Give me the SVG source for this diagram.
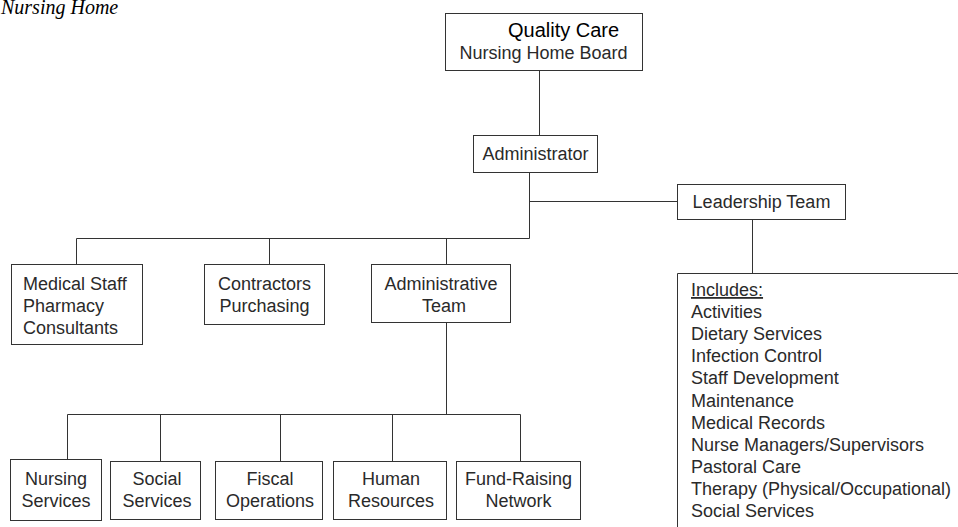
<svg xmlns="http://www.w3.org/2000/svg" width="958" height="527" viewBox="0 0 958 527">
<style>
  .box { fill: #ffffff; stroke: #333333; stroke-width: 1; }
  .ln { fill: none; stroke: #333333; stroke-width: 1; }
  .t { font-family: "Liberation Sans", Arial, sans-serif; font-size: 18px; fill: #2a2a2a; }
  .c { text-anchor: middle; }
  .title { font-family: "Liberation Sans", Arial, sans-serif; font-size: 20px; fill: #000000; }
  .cap { font-family: "Liberation Serif", "Times New Roman", serif; font-style: italic; font-size: 20px; fill: #000000; }
</style>
<rect width="958" height="527" fill="#ffffff"/>
<text class="cap" x="1" y="14">Nursing Home</text>

<g id="connectors">
  <path class="ln" d="M539.5 70.5 V135.5"/>
  <path class="ln" d="M529.5 172.5 V238.5"/>
  <path class="ln" d="M529.5 201.5 H677.5"/>
  <path class="ln" d="M752.5 219.5 V273.5"/>
  <path class="ln" d="M76.5 238.5 H529.5"/>
  <path class="ln" d="M76.5 238.5 V264.5 M269.5 238.5 V264.5 M446.5 238.5 V264.5"/>
  <path class="ln" d="M446.5 322.5 V414.5"/>
  <path class="ln" d="M67.5 414.5 H520.5"/>
  <path class="ln" d="M67.5 414.5 V461.5 M160.5 414.5 V461.5 M280.5 414.5 V461.5 M392.5 414.5 V461.5 M520.5 414.5 V461.5"/>
</g>

<g id="board">
  <rect class="box" x="445.5" y="13.5" width="197" height="57"/>
  <text class="title" x="508" y="37">Quality Care</text>
  <text class="t c" x="543.5" y="59">Nursing Home Board</text>
</g>

<g id="administrator">
  <rect class="box" x="473.5" y="135.5" width="124" height="37"/>
  <text class="t c" x="535.5" y="160">Administrator</text>
</g>

<g id="leadership">
  <rect class="box" x="677.5" y="184.5" width="168" height="35"/>
  <text class="t c" x="761.5" y="208">Leadership Team</text>
</g>

<g id="includes">
  <path class="box" d="M958 273.5 H677.5 V528"/>
  <text class="t" x="691" y="296" text-decoration="underline">Includes:</text>
  <text class="t" x="691" y="318.1">Activities</text>
  <text class="t" x="691" y="340.2">Dietary Services</text>
  <text class="t" x="691" y="362.3">Infection Control</text>
  <text class="t" x="691" y="384.4">Staff Development</text>
  <text class="t" x="691" y="406.5">Maintenance</text>
  <text class="t" x="691" y="428.6">Medical Records</text>
  <text class="t" x="691" y="450.7">Nurse Managers/Supervisors</text>
  <text class="t" x="691" y="472.8">Pastoral Care</text>
  <text class="t" x="691" y="494.9">Therapy (Physical/Occupational)</text>
  <text class="t" x="691" y="517">Social Services</text>
</g>

<g id="medical">
  <rect class="box" x="11.5" y="264.5" width="131" height="80"/>
  <text class="t" x="23" y="290">Medical Staff</text>
  <text class="t" x="23" y="312">Pharmacy</text>
  <text class="t" x="23" y="334">Consultants</text>
</g>

<g id="contractors">
  <rect class="box" x="204.5" y="264.5" width="120" height="60"/>
  <text class="t c" x="264.5" y="290">Contractors</text>
  <text class="t c" x="264.5" y="312">Purchasing</text>
</g>

<g id="admin-team">
  <rect class="box" x="371.5" y="264.5" width="139" height="58"/>
  <text class="t c" x="441" y="290">Administrative</text>
  <text class="t c" x="444" y="312">Team</text>
</g>

<g id="nursing">
  <rect class="box" x="10.5" y="459.5" width="91" height="61"/>
  <text class="t c" x="56" y="485">Nursing</text>
  <text class="t c" x="56" y="507">Services</text>
</g>

<g id="social">
  <rect class="box" x="110.5" y="461.5" width="90" height="58"/>
  <text class="t c" x="157" y="485">Social</text>
  <text class="t c" x="157" y="507">Services</text>
</g>

<g id="fiscal">
  <rect class="box" x="215.5" y="461.5" width="107" height="58"/>
  <text class="t c" x="270" y="485">Fiscal</text>
  <text class="t c" x="270" y="507">Operations</text>
</g>

<g id="human">
  <rect class="box" x="333.5" y="461.5" width="113" height="58"/>
  <text class="t c" x="391" y="485">Human</text>
  <text class="t c" x="391" y="507">Resources</text>
</g>

<g id="fundraising">
  <rect class="box" x="456.5" y="461.5" width="124" height="58"/>
  <text class="t c" x="518.5" y="485">Fund-Raising</text>
  <text class="t c" x="518.5" y="507">Network</text>
</g>
</svg>
